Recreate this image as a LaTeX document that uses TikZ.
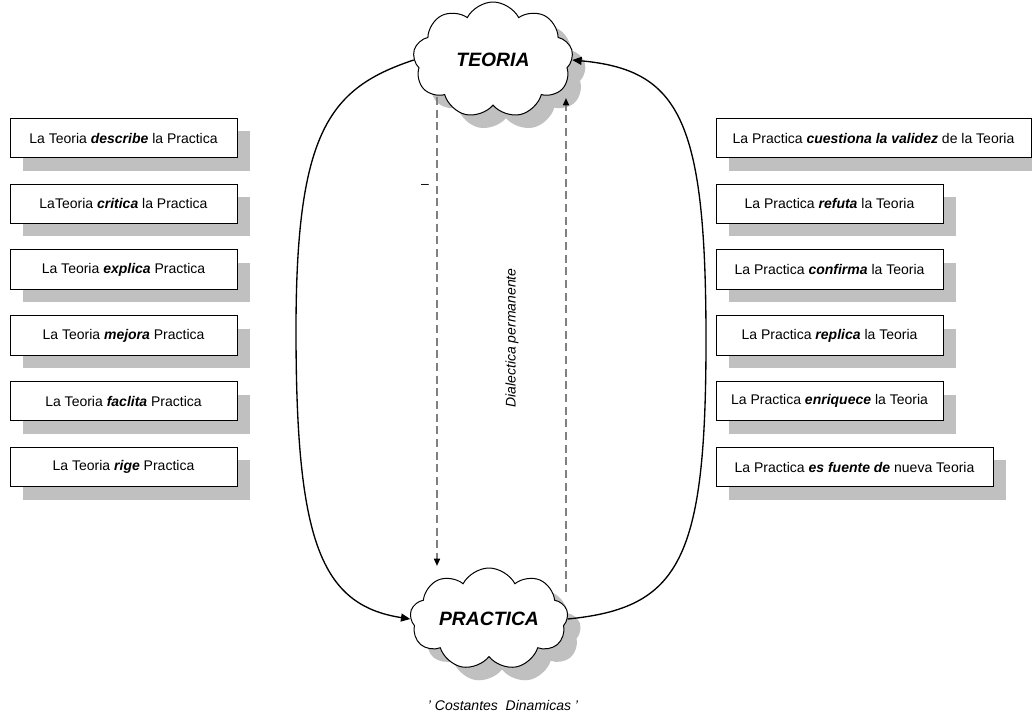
\documentclass[tikz,border=0pt]{standalone}
\usepackage{fontspec}
\setmainfont{Liberation Sans}
\usetikzlibrary{shapes.symbols,shadows,arrows.meta}
\definecolor{shadowgray}{HTML}{C0C0C0}
\definecolor{dashgray}{HTML}{808080}
\tikzset{
  shad/.style={drop shadow={shadow xshift=9.75pt, shadow yshift=-9.75pt, fill=shadowgray, opacity=1}},
  txtbox/.style={draw, line width=0.75pt, fill=white, shad, minimum height=29.5pt, inner sep=0pt,
     font=\fontsize{10.5}{12}\selectfont},
  lbox/.style={txtbox, minimum width=170.25pt},
  cloudnode/.style={cloud, cloud puffs=9, cloud puff arc=125, cloud ignores aspect, draw, line width=0.75pt, fill=white, shad,
     inner sep=0pt, font=\fontsize{14.5}{16}\selectfont\bfseries\itshape},
  mainarrow/.style={line width=1pt, -{Triangle[length=7pt,width=6pt]}},
  dasharrow/.style={dashgray, line width=1.2pt, dash pattern=on 6pt off 3.5pt, -{Triangle[black,length=5.5pt,width=4.5pt]}},
}
\newcommand{\bi}[1]{\textbf{\textit{#1}}}
\begin{document}
\begin{tikzpicture}[x=0.75pt,y=-0.75pt]
\useasboundingbox (0,0) rectangle (1032,715);

% clouds
\node[cloudnode, minimum width=120pt, minimum height=87pt] (teoria) at (493,60) {TEORIA};
\node[cloudnode, minimum width=118.5pt, minimum height=76.5pt] (practica) at (489,619) {PRACTICA};

% left boxes
\node[lbox] (l1) at (123.5,138) {La Teoria \bi{describe} la Practica};
\node[lbox] (l2) at (123.5,203.8) {LaTeoria \bi{critica} la Practica};
\node[lbox] (l3) at (123.5,269.6) {La Teoria \bi{explica} Practica};
\node[lbox] (l4) at (123.5,335.4) {La Teoria \bi{mejora} Practica};
\node[lbox] (l5) at (123.5,401.2) {La Teoria \bi{faclita} Practica};
\node[lbox] (l6) at (123.5,467) {La Teoria \bi{rige} Practica};

% right boxes
\node[txtbox, minimum width=236.25pt] (r1) at (873.5,138) {La Practica \bi{cuestiona la validez} de la Teoria};
\node[lbox] (r2) at (829.5,203.8) {La Practica \bi{refuta} la Teoria};
\node[lbox] (r3) at (829.5,269.6) {La Practica \bi{confirma} la Teoria};
\node[lbox] (r4) at (829.5,335.4) {La Practica \bi{replica} la Teoria};
\node[lbox] (r5) at (829.5,401.2) {La Practica \bi{enriquece} la Teoria};
\node[txtbox, minimum width=207.75pt] (r6) at (854.5,467) {La Practica \bi{es fuente de} nueva Teoria};

% main curved connectors
\draw[mainarrow] (teoria.west) .. controls (330,88) and (296,130) .. (296,330)
   .. controls (296,540) and (320,605) .. (practica.west);
\draw[mainarrow] (practica.east) .. controls (680,608) and (706,560) .. (706,340)
   .. controls (706,120) and (680,70) .. (teoria.east);

% dashed connectors
\coordinate (d1s) at (437,97);
\coordinate (d1e) at (437,566);
\coordinate (d2s) at (566,592);
\coordinate (d2e) at (566,98);
\draw[dasharrow] (d1s) -- (d1e);
\draw[dasharrow] (d2s) -- (d2e);

% labels
\node[font=\fontsize{10.5}{12}\selectfont\itshape, rotate=90] (dial) at (512,338) {Dialectica permanente};
\node[font=\fontsize{10.5}{12}\selectfont] (mark) at (425,186) {–};
\node[font=\fontsize{10.5}{12}\selectfont\itshape] (cd) at (503,705) {' Costantes\ \ Dinamicas '};
\end{tikzpicture}
\end{document}
